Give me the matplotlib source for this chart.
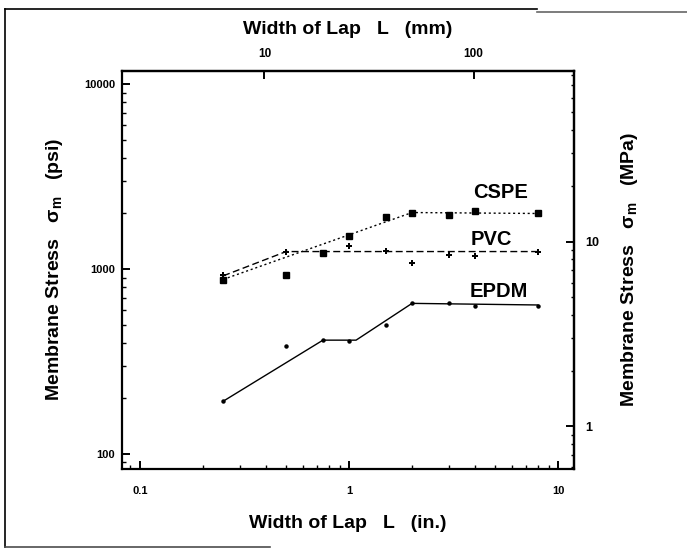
import matplotlib
matplotlib.use("Agg")
import matplotlib.pyplot as plt
from matplotlib.ticker import LogLocator, NullFormatter, FixedLocator, FixedFormatter
from matplotlib.lines import Line2D

plt.rcParams['font.family'] = ['Liberation Sans', 'DejaVu Sans']
plt.rcParams['font.weight'] = 'bold'
plt.rcParams['axes.labelweight'] = 'bold'
plt.rcParams['mathtext.fontset'] = 'custom'
plt.rcParams['mathtext.rm'] = 'Liberation Sans:bold'
plt.rcParams['mathtext.it'] = 'Liberation Sans:bold'
plt.rcParams['mathtext.bf'] = 'Liberation Sans:bold'

# --- data (width of lap in inches, membrane stress in psi) ---
lap_in = [0.25, 0.5, 0.75, 1.0, 1.5, 2, 3, 4, 8]
cspe_psi = [870, 928, 1216, 1513, 1918, 2024, 1966, 2066, 2000]
pvc_psi = [930, 1241, 1216, 1337, 1256, 1073, 1190, 1180, 1241]
epdm_psi = [193, 382, 413, 410, 500, 653, 653, 632, 632]

cspe_fit_in = [0.25, 2, 8]
cspe_fit_psi = [880, 2024, 2000]
pvc_fit_in = [0.25, 0.5, 8]
pvc_fit_psi = [920, 1245, 1245]
epdm_fit_in = [0.25, 0.75, 1.08, 2, 8]
epdm_fit_psi = [193, 413, 413, 653, 640]

series_labels = ["CSPE", "PVC", "EPDM"]
x_ticks = [0.1, 1, 10]
x_ticklabels = ["0.1", "1", "10"]
y_ticks = [100, 1000, 10000]
y_ticklabels = ["100", "1000", "10000"]
mm_ticks = [10, 100]
mpa_ticks = [1, 10]
PSI_PER_MPA = 141.0
MM_PER_IN = 25.4

fig = plt.figure(figsize=(6.87, 5.5), dpi=100)
ax = fig.add_axes([0.178, 0.1473, 0.6575, 0.7242])
ax.set_xscale('log')
ax.set_yscale('log')
ax.set_xlim(0.0823, 11.9)
ax.set_ylim(83, 11845)

k = 'black'
ax.plot(cspe_fit_in, cspe_fit_psi, linestyle=(0, (1.5, 2)), color=k, lw=1.0)
ax.plot(pvc_fit_in, pvc_fit_psi, linestyle=(0, (5, 2.5)), color=k, lw=1.0)
ax.plot(epdm_fit_in, epdm_fit_psi, linestyle='-', color=k, lw=1.0)

ax.plot(lap_in, cspe_psi, linestyle='none', marker='s', ms=4.5, color=k)
ax.plot(lap_in, pvc_psi, linestyle='none', marker='P', ms=4.5, color=k, mew=0)
ax.plot(lap_in, epdm_psi, linestyle='none', marker='o', ms=2.2, color=k)

ax.text(5.3, 2600, series_labels[0], fontsize=14.5, ha='center', va='center')
ax.text(4.8, 1450, series_labels[1], fontsize=14.5, ha='center', va='center')
ax.text(5.2, 760, series_labels[2], fontsize=14.5, ha='center', va='center')

for s in ax.spines.values():
    s.set_linewidth(1.6)

ax.xaxis.set_major_locator(FixedLocator(x_ticks))
ax.xaxis.set_major_formatter(FixedFormatter(x_ticklabels))
ax.xaxis.set_minor_locator(LogLocator(base=10, subs=range(2, 10)))
ax.xaxis.set_minor_formatter(NullFormatter())
ax.yaxis.set_major_locator(FixedLocator(y_ticks))
ax.yaxis.set_major_formatter(FixedFormatter(y_ticklabels))
ax.yaxis.set_minor_locator(LogLocator(base=10, subs=range(2, 10)))
ax.yaxis.set_minor_formatter(NullFormatter())
ax.tick_params(which='major', direction='in', length=6, width=1.4, labelsize=8, pad=5)
ax.tick_params(which='minor', direction='in', length=3, width=1.0)
ax.tick_params(axis='x', which='major', pad=12)
ax.tick_params(top=False, right=False, which='both')

ax.set_xlabel("Width of Lap   L   (in.)", fontsize=14, fontweight='bold', labelpad=14)
ax.set_ylabel(r"Membrane Stress   $\sigma_m$   (psi)", fontsize=14, fontweight='bold', labelpad=14)

# top axis in mm
secx = ax.secondary_xaxis('top', functions=(lambda x: x * MM_PER_IN, lambda m: m / MM_PER_IN))
secx.xaxis.set_major_locator(FixedLocator(mm_ticks))
secx.xaxis.set_major_formatter(FixedFormatter([str(v) for v in mm_ticks]))
secx.xaxis.set_minor_locator(FixedLocator([]))
secx.tick_params(which='major', direction='in', length=6, width=1.4, labelsize=8.5, pad=8)
secx.set_xlabel("Width of Lap   L   (mm)", fontsize=14, fontweight='bold', labelpad=10)
secx.spines['top'].set_linewidth(1.6)

# right axis in MPa
secy = ax.secondary_yaxis('right', functions=(lambda p: p / PSI_PER_MPA, lambda m: m * PSI_PER_MPA))
secy.yaxis.set_major_locator(FixedLocator(mpa_ticks))
secy.yaxis.set_major_formatter(FixedFormatter([str(v) for v in mpa_ticks]))
secy.yaxis.set_minor_locator(LogLocator(base=10, subs=range(2, 10)))
secy.yaxis.set_minor_formatter(NullFormatter())
secy.tick_params(which='major', direction='in', length=6, width=1.4, labelsize=9, pad=8)
secy.tick_params(which='minor', direction='in', length=2.5, width=1.0)
secy.set_ylabel(r"Membrane Stress   $\sigma_m$   (MPa)", fontsize=14, fontweight='bold', labelpad=14)
secy.spines['right'].set_linewidth(1.6)

# outer frame lines
fig.add_artist(Line2D([5/687, 5/687], [1 - 9/550, 1 - 547/550], color='black', lw=1.2, transform=fig.transFigure))
fig.add_artist(Line2D([5/687, 537/687], [1 - 9/550, 1 - 9/550], color='black', lw=1.2, transform=fig.transFigure))
fig.add_artist(Line2D([537/687, 1.0], [1 - 12/550, 1 - 12/550], color='0.4', lw=1.2, transform=fig.transFigure))
fig.add_artist(Line2D([5/687, 270/687], [1 - 547/550, 1 - 547/550], color='0.3', lw=1.2, transform=fig.transFigure))

fig.savefig("out.png", dpi=100)
